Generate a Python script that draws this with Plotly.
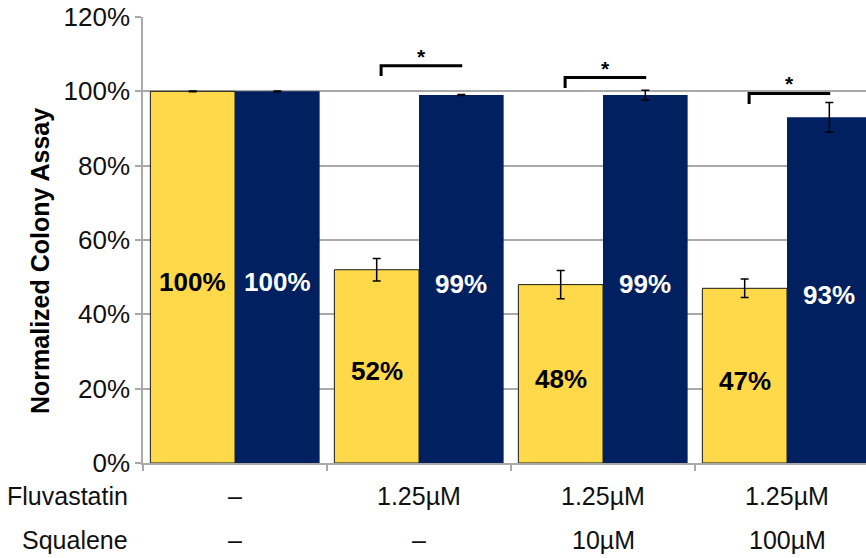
import plotly.graph_objects as go

# Treatment groups (two-row labels: fluvastatin dose / squalene dose)
fluvastatin = ["–", "1.25µM", "1.25µM", "1.25µM"]
squalene = ["–", "–", "10µM", "100µM"]
positions = [0, 1, 2, 3]

# Normalized colony assay (%) and error bars
series_a = [100, 52, 48, 47]
series_a_err = [0.1, 3.0, 3.8, 2.5]
series_b = [100, 99, 99, 93]
series_b_err = [0.1, 0.15, 1.3, 4.0]

YELLOW = "#FFD94A"
NAVY = "#002060"
GRID = "#A9A9A9"
FONT = "Arial, Liberation Sans, sans-serif"

# Plot-area geometry (pixels)
W, H = 866, 558
L, T, B = 143, 17, 95
plot_w = W - L
plot_h = H - T - B
cat_px = 184.0
x_max = -0.5 + plot_w / cat_px
BARGAP = 0.08
bar_w = (1 - BARGAP) / 2

fig = go.Figure()
fig.add_trace(go.Bar(
    x=positions, y=series_a,
    marker=dict(color=YELLOW, line=dict(color="#1a1a1a", width=1)),
    error_y=dict(type="data", array=series_a_err, color="black", thickness=1.5, width=4),
    showlegend=False,
))
fig.add_trace(go.Bar(
    x=positions, y=series_b,
    marker=dict(color=NAVY, line=dict(color=NAVY, width=0)),
    error_y=dict(type="data", array=series_b_err, color="black", thickness=1.5, width=4),
    showlegend=False,
))

# Value labels centred in each bar
for p, va, vb in zip(positions, series_a, series_b):
    fig.add_annotation(x=p - bar_w / 2, y=va / 2, xref="x", yref="y", text=f"<b>{va}%</b>",
                       showarrow=False, yshift=-5,
                       font=dict(family=FONT, size=26, color="black"))
    fig.add_annotation(x=p + bar_w / 2, y=vb / 2, xref="x", yref="y", text=f"<b>{vb}%</b>",
                       showarrow=False, yshift=-5,
                       font=dict(family=FONT, size=26, color="white"))

# Significance brackets between the paired bars
brackets = [
    (1.012, 106.9, 104.1, 109.4),
    (2.012, 103.7, 100.9, 106.2),
    (3.012, 99.4, 96.6, 102.0),
]
half = 0.223
for cx, ytop, ylow, ystar in brackets:
    fig.add_shape(type="path", xref="x", yref="y",
                  path=f"M {cx - half + 0.005} {ylow} L {cx - half + 0.005} {ytop} L {cx + half} {ytop}",
                  line=dict(color="black", width=3))
    fig.add_annotation(x=cx, y=ystar, xref="x", yref="y", text="<b>*</b>", showarrow=False,
                       font=dict(family=FONT, size=21, color="black"))

# Two-row treatment labels below the axis
row1_y = -(496 - 463) / plot_h
row2_y = -(540 - 463) / plot_h
for p, f, s in zip(positions, fluvastatin, squalene):
    fig.add_annotation(x=p, y=row1_y, xref="x", yref="paper", text=f, showarrow=False,
                       xanchor="center", yanchor="middle",
                       font=dict(family=FONT, size=25, color="#111111"))
    fig.add_annotation(x=p, y=row2_y, xref="x", yref="paper", text=s, showarrow=False,
                       xanchor="center", yanchor="middle",
                       font=dict(family=FONT, size=25, color="#111111"))
label_x = (130 - L) / plot_w
fig.add_annotation(x=label_x, y=row1_y, xref="paper", yref="paper", text="Fluvastatin",
                   showarrow=False, xanchor="right", yanchor="middle",
                   font=dict(family=FONT, size=25, color="#111111"))
fig.add_annotation(x=label_x, y=row2_y, xref="paper", yref="paper", text="Squalene",
                   showarrow=False, xanchor="right", yanchor="middle",
                   font=dict(family=FONT, size=25, color="#111111"))

# Y-axis title
fig.add_annotation(x=(40 - L) / plot_w, y=(463 - 261) / plot_h, xref="paper", yref="paper",
                   text="<b>Normalized Colony Assay</b>", textangle=-90, showarrow=False,
                   xanchor="center", yanchor="middle",
                   font=dict(family=FONT, size=25, color="black"))

fig.update_layout(
    width=W, height=H,
    margin=dict(l=L, r=0, t=T, b=B, pad=0),
    paper_bgcolor="white", plot_bgcolor="white",
    barmode="group", bargap=BARGAP, bargroupgap=0,
    xaxis=dict(
        range=[-0.5, x_max], tickmode="array", tickvals=[-0.5, 0.5, 1.5, 2.5],
        showticklabels=False, ticks="outside", ticklen=6, tickcolor=GRID, tickwidth=1.5,
        showline=True, linecolor=GRID, linewidth=1.5, showgrid=False, zeroline=False,
    ),
    yaxis=dict(
        range=[0, 120], dtick=20, ticksuffix="%",
        ticks="outside", ticklen=6, tickcolor=GRID, tickwidth=1.5,
        showline=True, linecolor=GRID, linewidth=1.5,
        showgrid=True, gridcolor=GRID, gridwidth=1.5, zeroline=False,
        tickfont=dict(family=FONT, size=26, color="#111111"),
    ),
)

fig.write_html("out.html")
